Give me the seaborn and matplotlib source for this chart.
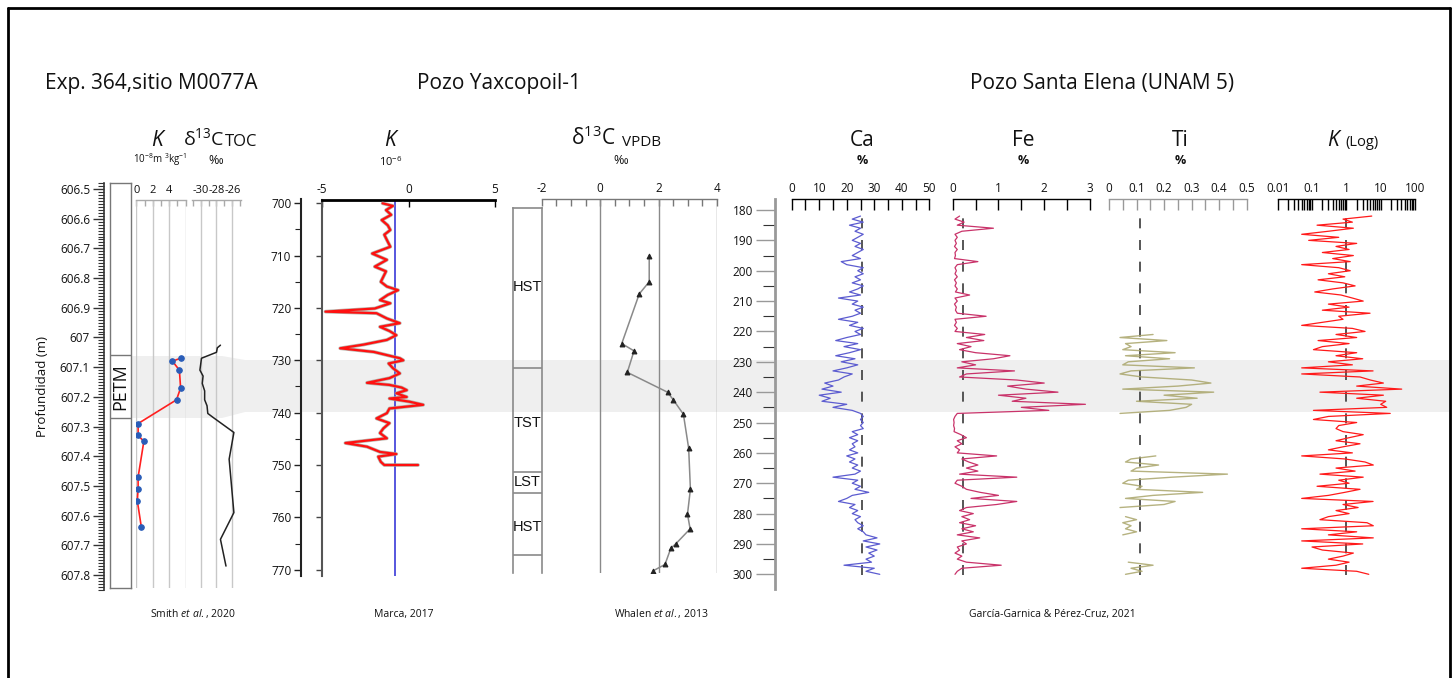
import numpy as np
import pandas as pd
import matplotlib
matplotlib.use("Agg")
import matplotlib.pyplot as plt
import seaborn as sns
from matplotlib.patches import Polygon
from matplotlib.lines import Line2D

nan = np.nan

# ---------------- data ----------------
# Exp. 364, site M0077A
m77_k_depth = [607.07, 607.08, 607.11, 607.17, 607.21, 607.29, 607.33, 607.35, 607.47, 607.51, 607.55, 607.64]
m77_k = [5.4, 4.4, 5.25, 5.4, 4.9, 0.2, 0.2, 0.9, 0.2, 0.2, 0.1, 0.6]
m77_c_depth = [607.026, 607.035, 607.05, 607.07, 607.09, 607.11, 607.13, 607.155, 607.18, 607.21,
               607.23, 607.256, 607.27, 607.32, 607.41, 607.59, 607.68, 607.77]
m77_c = [-27.5, -27.9, -28.0, -29.9, -30.0, -30.1, -29.7, -29.8, -29.5, -29.5,
         -29.2, -29.1, -28.4, -25.8, -26.4, -25.8, -27.5, -26.8]
petm_top, petm_base = 607.06, 607.27

# Yaxcopoil-1 magnetic susceptibility
yax_depth = [700.0, 700.5, 701.3, 702.2, 703.2, 704.2, 705.1, 706.0, 707.0, 708.3,
             709.6, 710.8, 712.1, 713.0, 714.0, 715.0, 715.9, 716.6, 717.5, 718.5,
             719.1, 720.1, 720.7, 721.0, 722.0, 722.9, 723.6, 724.4, 725.2, 726.1,
             727.0, 727.7, 728.4, 729.6, 730.0, 730.6, 731.5, 732.5, 733.4, 734.3,
             734.7, 735.2, 735.7, 736.3, 737.0, 737.3, 737.9, 738.5, 739.2, 740.1,
             741.1, 742.0, 743.0, 743.9, 744.9, 745.8, 746.5, 747.5, 747.9, 748.4,
             749.4, 750.0, 750.0]
yax_k = [-1.5, -0.9, -1.3, -1.0, -1.55, -1.2, -1.05, -1.4, -1.25, -1.05,
         -2.1, -1.25, -1.95, -1.3, -1.45, -1.6, -1.25, -0.6, -1.2, -1.65,
         -1.05, -1.95, -4.8, -1.85, -1.25, -0.5, -1.65, -1.1, -0.7, -1.25,
         -2.6, -3.95, -2.0, -0.5, -0.3, -1.15, -0.9, -0.5, -1.1, -2.4,
         -1.1, -0.4, -0.1, -0.7, -0.1, -1.1, 0.05, 0.85, -1.1, -1.25,
         -1.85, -1.1, -1.45, -1.65, -1.25, -3.65, -2.4, -1.65, -0.7, -1.75,
         -1.6, -1.4, 0.55]
yax_ref = -0.78

# Yaxcopoil-1 d13C (Whalen et al., 2013)
wh_depth = [710.1, 715.0, 717.3, 726.8, 728.2, 732.3, 736.1, 737.6, 740.3, 746.8,
            754.6, 759.4, 762.2, 765.0, 765.9, 769.0, 770.2]
wh_d13c = [1.68, 1.68, 1.34, 0.74, 1.16, 0.93, 2.31, 2.51, 2.85, 3.03,
           3.09, 2.99, 3.08, 2.60, 2.42, 2.22, 1.82]
seq_bounds = [731.5, 751.3, 755.4, 767.2]
seq_labels = ["HST", "TST", "LST", "HST"]
seq_label_depth = [715.9, 742.0, 753.2, 761.8]

# Santa Elena (UNAM 5) XRF
se_depth = np.arange(182, 301)
se_ca = [25, 22, 26, 21, 25, 23, 26, 24, 22, 25,
         23, 26, 24, 22, 25, 18, 20, 26, 24, 26,
         23, 25, 22, 26, 24, 21, 25, 17, 24, 22,
         26, 23, 25, 22, 17, 24, 21, 26, 23, 25,
         20, 16, 24, 19, 25, 21, 16, 23, 18, 24,
         20, 15, 22, 19, 17, 12, 15, 11, 18, 10,
         14, 11, 20, 15, 22, 25, 26, 25, 26, 25,
         26, 22, 24, 21, 24, 22, 23, 21, 24, 20,
         23, 21, 24, 22, 25, 23, 15, 24, 22, 25,
         23, 28, 22, 20, 17, 23, 21, 24, 22, 25,
         23, 24, 26, 24, 26, 27, 31, 26, 32, 27,
         31, 28, 30, 27, 29, 19, 30, 27, 32]
se_fe = [0.15, 0.05, 0.25, 0.10, 0.89, 0.20, 0.05, 0.10, 0.05, 0.08,
         0.04, 0.10, 0.05, 0.06, 0.04, 0.55, 0.10, 0.05, 0.08, 0.05,
         0.10, 0.04, 0.08, 0.05, 0.10, 0.06, 0.37, 0.05, 0.10, 0.04,
         0.08, 0.06, 0.10, 0.73, 0.05, 0.08, 0.04, 0.10, 0.05, 0.70,
         0.30, 0.68, 0.10, 0.40, 0.15, 0.50, 1.25, 0.89, 0.20, 0.50,
         0.10, 1.35, 0.30, 0.15, 1.40, 2.00, 1.20, 1.60, 2.30, 1.00,
         1.60, 1.30, 2.90, 1.50, 2.10, 0.10, 0.05, 0.02, 0.03, 0.02,
         0.04, 0.03, 0.18, 0.30, 0.10, 0.20, 0.05, 0.15, 0.10, 0.96,
         0.20, 0.35, 0.55, 0.30, 0.55, 0.15, 1.40, 0.10, 0.05, 0.20,
         0.30, 0.60, 1.00, 0.40, 1.40, 0.96, 0.30, 0.15, 0.45, 0.20,
         0.37, 0.15, 0.50, 0.20, 0.45, 0.10, 0.59, 0.20, 0.30, 0.10,
         0.15, 0.05, 0.20, 0.10, 0.30, 1.06, 0.20, 0.10, 0.05]
se_ti = ([nan] * 39 +
         [0.16, 0.04, 0.21, 0.06, 0.08, 0.05, 0.24, 0.06, 0.22, 0.07, 0.05, 0.31, 0.08, 0.04,
          0.12, 0.30, 0.37, 0.25, 0.05, 0.38, 0.20, 0.32, 0.10, 0.30, 0.28, 0.22, 0.04] +
         [nan] * 13 +
         [0.17, 0.08, 0.06, 0.18, 0.10, 0.08, 0.43, 0.23, 0.07, 0.05, 0.12, 0.10, 0.34, 0.16,
          0.06, 0.24, 0.20, 0.04] +
         [nan] * 2 +
         [0.06, 0.10, 0.05, 0.08, 0.06, 0.10, 0.05] +
         [nan] * 8 +
         [0.07, 0.16, 0.08, 0.12, 0.06])
se_k = [5.5, 0.8, 1.5, 0.14, 1.6, 0.3, 0.05, 0.6, 0.08, 2.0,
        0.5, 1.2, 0.2, 1.6, 0.4, 1.3, 0.05, 0.6, 1.3, 0.3,
        0.9, 0.15, 0.8, 1.8, 0.4, 0.12, 0.7, 1.5, 3.1, 0.3,
        1.2, 0.2, 4.9, 0.6, 0.8, 0.2, 0.05, 1.5, 3.5, 0.5,
        2.0, 0.15, 1.2, 0.2, 0.11, 2.0, 0.5, 3.0, 0.3, 1.5,
        0.05, 6.0, 0.05, 2.5, 5.0, 12, 2.0, 41, 0.17, 12,
        2.0, 14, 10, 15, 0.11, 19, 0.3, 0.11, 2.0, 0.6,
        0.5, 0.8, 3.1, 1.2, 0.5, 2.5, 0.8, 0.3, 1.5, 0.05,
        0.9, 3.5, 6.1, 0.5, 1.8, 0.17, 3.1, 0.6, 1.2, 0.14,
        2.5, 0.9, 0.3, 0.05, 6.0, 0.8, 2.2, 0.5, 1.2, 0.3,
        0.17, 4.0, 6.1, 0.05, 2.0, 0.3, 6.1, 0.05, 3.0, 0.1,
        0.2, 1.6, 0.8, 0.3, 1.2, 0.5, 0.05, 2.0, 4.5]
se_ref = {"Ca": 25.5, "Fe": 0.22, "Ti": 0.113, "K": 1.0}

# ---------------- figure ----------------
sns.set_theme(style="white")
plt.rcParams["font.family"] = ["Open Sans", "DejaVu Sans"]
plt.rcParams["mathtext.fontset"] = "custom"
plt.rcParams["mathtext.rm"] = "Open Sans"
plt.rcParams["mathtext.it"] = "Open Sans:italic"

W, H = 1456, 678
fig = plt.figure(figsize=(W / 100, H / 100), dpi=100)
fig.patch.set_facecolor("white")


def add_ax(x0, y0, x1, y1):
    ax = fig.add_axes([x0 / W, 1 - y1 / H, (x1 - x0) / W, (y1 - y0) / H])
    ax.set_facecolor("none")
    ax.set_zorder(2)
    for s in ax.spines.values():
        s.set_visible(False)
    ax.set_xticks([])
    ax.set_yticks([])
    return ax


def ftext(x, y, s, **kw):
    kw.setdefault("ha", "center")
    kw.setdefault("va", "center")
    kw.setdefault("color", "#111111")
    return fig.text(x / W, 1 - y / H, s, **kw)


def map1(y):  # M0077A depth from pixel row
    return 606.5 + (y - 189) / 296.9


def map2(y):  # Yaxcopoil depth
    return 700 + (y - 203.3) / 5.234


def map4(y):  # Santa Elena depth
    return 180 + (y - 210) / 3.036


def set_depth(ax, fn, y0, y1):
    ax.set_ylim(fn(y1), fn(y0))


def top_axis(ax, xlim, major, labels, minor=None, color="black", length=7, lw=1.0, size=8.5, spine_lw=1.0):
    ax.set_xlim(*xlim)
    ax.spines["top"].set_visible(True)
    ax.spines["top"].set_color(color)
    ax.spines["top"].set_linewidth(spine_lw)
    ax.xaxis.set_ticks_position("top")
    ax.set_xticks(major)
    ax.set_xticklabels(labels)
    if minor is not None:
        ax.set_xticks(minor, minor=True)
    ax.tick_params(axis="x", which="both", direction="in", length=length, width=lw, colors=color,
                   labelcolor="#111111", labelsize=size, pad=3, top=True, bottom=False,
                   labeltop=True, labelbottom=False)
    ax.set_xlabel("")
    ax.set_ylabel("")


def depth_axis(ax, major, labels, minor, color="black", lw=1.2, maj_len=6, min_len=3, size=8.5, min_color=None):
    ax.spines["left"].set_visible(True)
    ax.spines["left"].set_color(color)
    ax.spines["left"].set_linewidth(lw)
    ax.set_yticks(major)
    ax.set_yticklabels(labels)
    ax.set_yticks(minor, minor=True)
    ax.tick_params(axis="y", which="major", direction="out", length=maj_len, width=1, colors=color,
                   labelcolor="#111111", labelsize=size, left=True, labelleft=True, pad=2)
    ax.tick_params(axis="y", which="minor", direction="out", length=min_len, width=0.8,
                   colors=min_color or color, left=True)


# PETM band across the figure
band = [(131, 356), (222, 356), (245, 360), (1450, 360), (1450, 412), (245, 412), (222, 418), (131, 418)]
fig.add_artist(Polygon([(x / W, 1 - y / H) for x, y in band], closed=True, transform=fig.transFigure,
                       facecolor="#efefef", edgecolor="none", zorder=0.5))

# frame
for xs, ys in [([8, 8], [8, 690]), ([1450, 1450], [8, 690]), ([8, 1450], [8, 8])]:
    fig.add_artist(Line2D([x / W for x in xs], [1 - y / H for y in ys], transform=fig.transFigure,
                          color="black", lw=2, zorder=5))

# ---------- Panel 1 : M0077A ----------
ax1d = add_ax(104, 183, 110, 590)
set_depth(ax1d, map1, 183, 590)
maj1 = np.round(np.arange(606.5, 607.81, 0.1), 2)
lab1 = ["%g" % v for v in maj1]
min1 = np.round(np.arange(606.48, 607.85, 0.01), 3)
depth_axis(ax1d, maj1, lab1, min1, color="#333333", lw=1.2, maj_len=8, min_len=4, size=8.5)
ax1d.set_ylabel("Profundidad (m)", fontsize=9.5, labelpad=8, color="#111111")

col1 = add_ax(110, 183, 131, 588)
set_depth(col1, map1, 183, 588)
for s in col1.spines.values():
    s.set_visible(True)
    s.set_color("#777777")
    s.set_linewidth(1)
col1.axhline(petm_top, color="#777777", lw=1)
col1.axhline(petm_base, color="#777777", lw=1)
col1.set_xlim(0, 1)
col1.text(0.5, (petm_top + petm_base) / 2, "PETM", rotation=90, ha="center", va="center", fontsize=13,
          color="#111111")

k1 = add_ax(136, 200, 186, 588)
for v in [0, 2, 4, 6]:
    k1.axvline(v, color="#c8c8c8", lw=1, zorder=1)
sns.lineplot(x=m77_k, y=m77_k_depth, sort=False, estimator=None, ax=k1, color="#ff2020", lw=1.2,
             marker="o", markersize=4, markerfacecolor="#2a5db8", markeredgecolor="#2a5db8", zorder=3)
top_axis(k1, (-0.06, 6.06), [0, 2, 4, 6], ["0", "2", "4", ""], minor=[1, 3, 5], color="#aaaaaa",
         length=4, size=8)
set_depth(k1, map1, 200, 588)

c1 = add_ax(192, 200, 241, 588)
for v in [-30, -28, -26]:
    c1.axvline(v, color="#c8c8c8", lw=1, zorder=1)
sns.lineplot(x=m77_c, y=m77_c_depth, sort=False, estimator=None, ax=c1, color="#222222", lw=1.1, zorder=3)
top_axis(c1, (-31.1, -24.9), [-30, -28, -26], ["-30", "-28", "-26"], minor=[-31, -29, -27, -25],
         color="#aaaaaa", length=4, size=8)
set_depth(c1, map1, 200, 588)

# ---------- Panel 2 : Yaxcopoil K ----------
ax2d = add_ax(301, 199, 322, 576)
set_depth(ax2d, map2, 199, 576)
depth_axis(ax2d, list(range(700, 771, 10)), [str(v) for v in range(700, 771, 10)],
           list(range(705, 770, 10)), color="#222222", lw=1.5, maj_len=5, min_len=4, size=8.5)

k2 = add_ax(322, 200, 495, 576)
k2.axvline(yax_ref, color="#3a3ad8", lw=1.2, zorder=2)
sns.lineplot(x=yax_k, y=yax_depth, sort=False, estimator=None, ax=k2, color="#a89f95", lw=2.6,
             alpha=0.8, zorder=3)
sns.lineplot(x=yax_k, y=yax_depth, sort=False, estimator=None, ax=k2, color="#ff1010", lw=1.6, zorder=4)
top_axis(k2, (-5, 5), [-5, 0, 5], ["-5", "0", "5"], color="black", length=5, size=8.5, spine_lw=2)
k2.spines["left"].set_visible(True)
k2.spines["left"].set_color("#555555")
k2.spines["left"].set_linewidth(1.5)
k2.set_yticks(list(range(700, 771, 10)))
k2.tick_params(axis="y", which="major", direction="out", length=4, width=1, colors="#444444",
               left=True, labelleft=False)
set_depth(k2, map2, 200, 576)

# ---------- Panel 3 : Whalen d13C ----------
seq = add_ax(513, 208, 542, 573)
set_depth(seq, map2, 208, 573)
seq.set_xlim(0, 1)
for s in ["left", "right", "top"]:
    seq.spines[s].set_visible(True)
    seq.spines[s].set_color("#8a8a8a")
    seq.spines[s].set_linewidth(1.2)
for b in seq_bounds:
    seq.axhline(b, color="#8a8a8a", lw=1.2)
for lab, d in zip(seq_labels, seq_label_depth):
    seq.text(0.5, d, lab, ha="center", va="center", fontsize=10.5, color="#111111",
             family=["Liberation Sans", "DejaVu Sans"])

c3 = add_ax(541.7, 199, 717, 573)
for v in [0, 2, 4]:
    c3.axvline(v, color="#8a8a8a", lw=1, zorder=1)
sns.lineplot(x=wh_d13c, y=wh_depth, sort=False, estimator=None, ax=c3, color="#8a8a8a", lw=1.1,
             marker="^", markersize=3.5, markerfacecolor="#222222", markeredgecolor="#222222", zorder=3)
top_axis(c3, (-2, 4), [-2, 0, 2, 4], ["-2", "0", "2", "4"], minor=list(np.arange(-1.5, 4, 0.5)),
         color="#777777", length=5, size=8.5)
set_depth(c3, map2, 199, 573)

# ---------- Panel 4 : Santa Elena ----------
Y0, Y1 = 199, 589
ax4d = add_ax(775, Y0, 790, Y1)
set_depth(ax4d, map4, Y0, Y1)
depth_axis(ax4d, list(range(180, 301, 10)), [str(v) for v in range(180, 301, 10)],
           list(range(185, 300, 10)), color="#999999", lw=2, maj_len=14, min_len=9, size=8.5,
           min_color="#333333")

dash = (0, (6, 7))
ref_lo = (Y1 - 575) / (Y1 - Y0)
ref_hi = (Y1 - (Y0 + 11)) / (Y1 - Y0)


def se_track(x0, x1, values, color, xlim, major, labels, minor, ref, axis_color="black", log=False,
             units=None, alpha=1.0):
    ax = add_ax(x0, Y0, x1, Y1)
    ax.axvline(ref, ymin=ref_lo, ymax=ref_hi, color="#3a3a3a", lw=1.2, ls=dash, zorder=2)
    df = pd.DataFrame({"v": values, "d": se_depth})
    if units is None:
        sns.lineplot(data=df, x="v", y="d", sort=False, estimator=None, ax=ax, color=color, lw=0.9,
                     alpha=alpha, zorder=3)
    else:
        df["seg"] = df["v"].isna().cumsum()
        df = df.dropna()
        sns.lineplot(data=df, x="v", y="d", units="seg", sort=False, estimator=None, ax=ax, color=color,
                     lw=1.0, alpha=alpha, zorder=3)
    if log:
        ax.set_xscale("log")
    top_axis(ax, xlim, major, labels, minor=minor, color=axis_color, length=8, size=8.5)
    set_depth(ax, map4, Y0, Y1)
    return ax


ca = se_track(791.7, 929.3, se_ca, "#5c5cd0", (0, 50), list(range(0, 51, 10)),
              [str(v) for v in range(0, 51, 10)], list(range(5, 50, 10)), se_ref["Ca"])
fe = se_track(952.7, 1090, se_fe, "#c9336a", (0, 3), [0, 1, 2, 3], ["0", "1", "2", "3"],
              [0.5, 1.5, 2.5], se_ref["Fe"])
ti = se_track(1109, 1246.7, se_ti, "#a9a56a", (0, 0.5), [0, 0.1, 0.2, 0.3, 0.4, 0.5],
              ["0", "0.1", "0.2", "0.3", "0.4", "0.5"], [0.05, 0.15, 0.25, 0.35, 0.45], se_ref["Ti"],
              axis_color="#999999", units=True, alpha=0.85)
kminor = [m * 10.0 ** e for e in range(-2, 2) for m in range(2, 10)]
kl = se_track(1277.7, 1415, se_k, "#ff1a1a", (0.01, 100), [0.01, 0.1, 1, 10, 100],
              ["0.01", "0.1", "1", "10", "100"], kminor, se_ref["K"], log=True)

# ---------------- text ----------------
ftext(45, 83, "Exp. 364,sitio M0077A", ha="left", fontsize=15)
ftext(499, 83, "Pozo Yaxcopoil-1", fontsize=15)
ftext(1102, 83, "Pozo Santa Elena (UNAM 5)", fontsize=15)

# panel 1 titles
ftext(157, 140, "K", fontsize=15, style="italic")
ftext(204, 138, "δ$^{13}$C", fontsize=14)
ftext(225, 142, "TOC", ha="left", fontsize=12)
ftext(160, 160, r"10$^{-8}$m $^{3}$kg$^{-1}$", fontsize=7)
ftext(216, 160, "‰", fontsize=9)
# panel 2
ftext(390, 140, "K", fontsize=15, style="italic")
ftext(391, 162, r"10$^{-6}$", fontsize=8)
# panel 3
ftext(593, 138, "δ$^{13}$C", fontsize=15)
ftext(622, 142, "VPDB", ha="left", fontsize=11)
ftext(621, 160, "‰", fontsize=9)
# panel 4
for x, t in [(862, "Ca"), (1023, "Fe"), (1180, "Ti")]:
    ftext(x, 141, t, fontsize=15)
    ftext(x, 160, "%", fontsize=9, weight="bold")
ftext(1333, 141, "K", fontsize=15, style="italic")
ftext(1345, 143, "(Log)", ha="left", fontsize=10.5)

# citations
ftext(193, 614, r"Smith $\mathit{et\ al.}$, 2020", fontsize=7.5)
ftext(404, 614, "Marca, 2017", fontsize=7.5)
ftext(661, 614, r"Whalen $\mathit{et\ al.}$, 2013", fontsize=7.5)
ftext(1052, 614, "García-Garnica & Pérez-Cruz, 2021", fontsize=7.5)

fig.savefig("out.png", dpi=100, facecolor="white")
